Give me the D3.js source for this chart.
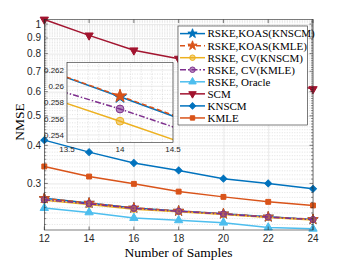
<!DOCTYPE html>
<html>
<head>
<meta charset="utf-8">
<script src="https://cdn.jsdelivr.net/npm/d3@7"></script>
<style>
  body { margin: 0; background: #fff; }
  svg { display: block; }
</style>
</head>
<body>
<div id="chart"></div>
<script>
// values (NMSE vs number of samples)
const samples = [12, 14, 16, 18, 20, 22, 24];
const koasKnscm = [0.2681, 0.2587, 0.2492, 0.2435, 0.2385, 0.2330, 0.2285];
const koasKmle = [0.2680, 0.2588, 0.2494, 0.2437, 0.2386, 0.2331, 0.2287];
const cvKnscm = [0.2644, 0.2557, 0.2467, 0.2420, 0.2372, 0.2320, 0.2277];
const cvKmle = [0.2651, 0.2572, 0.2484, 0.2430, 0.2380, 0.2326, 0.2282];
const oracle = [0.249, 0.241, 0.231, 0.227, 0.223, 0.215, 0.213];
const scm = [1.035, 0.918, 0.82, 0.77, 0.71, 0.66, 0.612];
const knscm = [0.416, 0.380, 0.350, 0.331, 0.311, 0.300, 0.288];
const kmle = [0.341, 0.316, 0.299, 0.282, 0.271, 0.261, 0.254];

const seriesNames = ["RSKE,KOAS(KNSCM)", "RSKE,KOAS(KMLE)", "RSKE, CV(KNSCM)", "RSKE, CV(KMLE)",
  "RSKE, Oracle", "SCM", "KNSCM", "KMLE"];
const xTicks = [12, 14, 16, 18, 20, 22, 24];
const yTicks = [0.3, 0.4, 0.5, 0.6, 0.7, 0.8, 0.9, 1];
const insetXTicks = [13.5, 14, 14.5];
const insetYTicks = [0.254, 0.256, 0.258, 0.26, 0.262];

const series = [
  { name: seriesNames[0], values: koasKnscm, color: "#0072BD", dash: null, marker: "star" },
  { name: seriesNames[1], values: koasKmle, color: "#D95319", dash: "5,3", marker: "star" },
  { name: seriesNames[2], values: cvKnscm, color: "#EDB120", dash: null, marker: "circle" },
  { name: seriesNames[3], values: cvKmle, color: "#7E2F8E", dash: "6,2,1.5,2", marker: "circle" },
  { name: seriesNames[4], values: oracle, color: "#4DBEEE", dash: null, marker: "triangle" },
  { name: seriesNames[5], values: scm, color: "#A2142F", dash: null, marker: "triangleDown" },
  { name: seriesNames[6], values: knscm, color: "#0072BD", dash: null, marker: "diamond" },
  { name: seriesNames[7], values: kmle, color: "#D95319", dash: null, marker: "square" }
];

const width = 346, height = 260;
const axisColor = "#262626";
const sansFont = "'Liberation Sans', Arial, sans-serif";
const serifFont = "'Liberation Serif', 'Times New Roman', serif";

const svg = d3.select("#chart").append("svg")
  .attr("width", width)
  .attr("height", height);

// main axes
const x = d3.scaleLinear().domain([12, 24]).range([44.3, 313]);
const y = d3.scaleLog().domain([0.211, 1.035]).range([230, 19.5]);

function markerPath(kind, size) {
  if (kind === "star") return d3.symbol(d3.symbolStar, size * 1.1)();
  if (kind === "circle") return d3.symbol(d3.symbolCircle, size)();
  if (kind === "triangle" || kind === "triangleDown") return d3.symbol(d3.symbolTriangle, size)();
  return d3.symbol(d3.symbolSquare, size * 0.8)();
}
function markerRotate(kind) {
  if (kind === "triangleDown") return 180;
  if (kind === "diamond") return 45;
  return 0;
}

function drawGrid(g, xs, ys, xMinor, yMinor, x0, x1, y0, y1) {
  g.selectAll(".minor-y").data(yMinor).enter().append("line")
    .attr("x1", x0).attr("x2", x1)
    .attr("y1", d => ys(d)).attr("y2", d => ys(d))
    .attr("stroke", "#cfcfcf").attr("stroke-width", 0.6).attr("stroke-dasharray", "1,1.5");
  g.selectAll(".minor-x").data(xMinor).enter().append("line")
    .attr("y1", y0).attr("y2", y1)
    .attr("x1", d => xs(d)).attr("x2", d => xs(d))
    .attr("stroke", "#cfcfcf").attr("stroke-width", 0.6).attr("stroke-dasharray", "1,1.5");
}

const main = svg.append("g");

// minor grid: 0.01 steps on the log axis
const yMinor = d3.range(0.22, 1.031, 0.01).map(v => +v.toFixed(2)).filter(v => yTicks.indexOf(v) < 0);
drawGrid(main, x, y, [], yMinor, 44.3, 313, 230, 19.5);

// major grid
main.append("g").call(d3.axisBottom(x).tickValues(xTicks).tickSize(-(230 - 19.5)).tickFormat(""))
  .attr("transform", "translate(0,230)")
  .call(g => g.select(".domain").remove())
  .call(g => g.selectAll("line").attr("stroke", "#e0e0e0").attr("stroke-width", 0.7));
main.append("g").call(d3.axisLeft(y).tickValues(yTicks).tickSize(-(313 - 44.3)).tickFormat(""))
  .attr("transform", "translate(44.3,0)")
  .call(g => g.select(".domain").remove())
  .call(g => g.selectAll("line").attr("stroke", "#e0e0e0").attr("stroke-width", 0.7));

// series lines and markers
const line = d3.line().x((d, i) => x(samples[i])).y(d => y(d));
series.forEach(s => {
  main.append("path")
    .datum(s.values)
    .attr("d", line)
    .attr("fill", "none")
    .attr("stroke", s.color)
    .attr("stroke-width", 1.5)
    .attr("stroke-dasharray", s.dash);
  main.selectAll(null).data(s.values).enter().append("path")
    .attr("d", markerPath(s.marker, 30))
    .attr("transform", (d, i) => `translate(${x(samples[i])},${y(d)}) rotate(${markerRotate(s.marker)})`)
    .attr("fill", s.color)
    .attr("fill-opacity", s.marker === "circle" ? 0.55 : 1)
    .attr("stroke", s.color)
    .attr("stroke-width", 1);
});

// main box and ticks
main.append("rect")
  .attr("x", 44.3).attr("y", 19.5).attr("width", 313 - 44.3).attr("height", 230 - 19.5)
  .attr("fill", "none").attr("stroke", axisColor).attr("stroke-width", 0.6);

[44.3, 313].forEach((xx, k) => {
  const dir = k === 0 ? 1 : -1;
  main.selectAll(null).data(yTicks).enter().append("line")
    .attr("x1", xx).attr("x2", xx + dir * 3.5).attr("y1", d => y(d)).attr("y2", d => y(d))
    .attr("stroke", axisColor).attr("stroke-width", 0.6);
  main.selectAll(null).data(yMinor).enter().append("line")
    .attr("x1", xx).attr("x2", xx + dir * 2).attr("y1", d => y(d)).attr("y2", d => y(d))
    .attr("stroke", axisColor).attr("stroke-width", 0.5);
});
[230, 19.5].forEach((yy, k) => {
  const dir = k === 0 ? -1 : 1;
  main.selectAll(null).data(xTicks).enter().append("line")
    .attr("y1", yy).attr("y2", yy + dir * 3.5).attr("x1", d => x(d)).attr("x2", d => x(d))
    .attr("stroke", axisColor).attr("stroke-width", 0.6);
});

main.selectAll(null).data(yTicks).enter().append("text")
  .attr("x", 41).attr("y", d => y(d)).attr("dy", "0.35em")
  .attr("text-anchor", "end")
  .attr("font-family", sansFont).attr("font-size", 10).attr("fill", axisColor)
  .text(d => d3.format("~g")(d));
main.selectAll(null).data(xTicks).enter().append("text")
  .attr("x", d => x(d)).attr("y", 242)
  .attr("text-anchor", "middle")
  .attr("font-family", sansFont).attr("font-size", 10).attr("fill", axisColor)
  .text(d => d);

svg.append("text")
  .attr("x", 178.5).attr("y", 256.5)
  .attr("text-anchor", "middle")
  .attr("font-family", serifFont).attr("font-size", 13.5).attr("fill", "#000")
  .text("Number of Samples");
svg.append("text")
  .attr("transform", "translate(24,122) rotate(-90)")
  .attr("text-anchor", "middle")
  .attr("font-family", serifFont).attr("font-size", 13.5).attr("fill", "#000")
  .text("NMSE");

// inset (zoom around x = 14)
const ix = d3.scaleLinear().domain([13.5, 14.5]).range([67, 173]);
const iy = d3.scaleLinear().domain([0.2531, 0.26295]).range([142.3, 62.3]);
const inset = svg.append("g");
inset.append("rect")
  .attr("x", 67).attr("y", 62.3).attr("width", 106).attr("height", 80)
  .attr("fill", "#fff");
svg.append("clipPath").attr("id", "insetClip")
  .append("rect").attr("x", 67).attr("y", 62.3).attr("width", 106).attr("height", 80);

const insetYMinor = d3.range(0.2535, 0.2629, 0.0005).map(v => +v.toFixed(4))
  .filter(v => insetYTicks.every(t => Math.abs(t - v) > 1e-6));
const insetXMinor = d3.range(13.6, 14.45, 0.1).map(v => +v.toFixed(1)).filter(v => v !== 14);
drawGrid(inset, ix, iy, insetXMinor, insetYMinor, 67, 173, 142.3, 62.3);
inset.selectAll(null).data(insetYTicks).enter().append("line")
  .attr("x1", 67).attr("x2", 173).attr("y1", d => iy(d)).attr("y2", d => iy(d))
  .attr("stroke", "#e0e0e0").attr("stroke-width", 0.7);
inset.selectAll(null).data(insetXTicks).enter().append("line")
  .attr("y1", 62.3).attr("y2", 142.3).attr("x1", d => ix(d)).attr("x2", d => ix(d))
  .attr("stroke", "#e0e0e0").attr("stroke-width", 0.7);

const iline = d3.line().x((d, i) => ix(samples[i])).y(d => iy(d));
const insetPlot = inset.append("g").attr("clip-path", "url(#insetClip)");
series.forEach(s => {
  insetPlot.append("path")
    .datum(s.values)
    .attr("d", iline)
    .attr("fill", "none")
    .attr("stroke", s.color)
    .attr("stroke-width", 1.5)
    .attr("stroke-dasharray", s.dash);
});
series.forEach(s => {
  const pts = s.values.map((v, i) => ({ sx: samples[i], v }))
    .filter(p => p.sx >= 13.5 && p.sx <= 14.5 && p.v >= 0.2531 && p.v <= 0.26295);
  inset.selectAll(null).data(pts).enter().append("path")
    .attr("d", markerPath(s.marker, 48))
    .attr("transform", p => `translate(${ix(p.sx)},${iy(p.v)})`)
    .attr("fill", s.color)
    .attr("fill-opacity", s.marker === "circle" ? 0.55 : 1)
    .attr("stroke", s.color)
    .attr("stroke-width", 1);
});
inset.append("rect")
  .attr("x", 67).attr("y", 62.3).attr("width", 106).attr("height", 80)
  .attr("fill", "none").attr("stroke", axisColor).attr("stroke-width", 0.6);
inset.selectAll(null).data(insetYTicks).enter().append("text")
  .attr("x", 64).attr("y", d => iy(d)).attr("dy", "0.35em")
  .attr("text-anchor", "end")
  .attr("font-family", sansFont).attr("font-size", 8).attr("fill", axisColor)
  .text(d => d3.format("~g")(d));
inset.selectAll(null).data(insetXTicks).enter().append("text")
  .attr("x", d => ix(d)).attr("y", 152)
  .attr("text-anchor", "middle")
  .attr("font-family", sansFont).attr("font-size", 8).attr("fill", axisColor)
  .text(d => d);

// legend
const legend = svg.append("g");
legend.append("rect")
  .attr("x", 178).attr("y", 26).attr("width", 129.5).attr("height", 99)
  .attr("fill", "#fff").attr("stroke", axisColor).attr("stroke-width", 0.6);
series.forEach((s, i) => {
  const ly = 33.6 + i * 12.05;
  legend.append("line")
    .attr("x1", 180).attr("x2", 205).attr("y1", ly).attr("y2", ly)
    .attr("stroke", s.color).attr("stroke-width", 1.5)
    .attr("stroke-dasharray", s.dash);
  legend.append("path")
    .attr("d", markerPath(s.marker, 24))
    .attr("transform", `translate(192.5,${ly}) rotate(${markerRotate(s.marker)})`)
    .attr("fill", s.color)
    .attr("fill-opacity", s.marker === "circle" ? 0.55 : 1)
    .attr("stroke", s.color).attr("stroke-width", 1);
  legend.append("text")
    .attr("x", 207.5).attr("y", ly).attr("dy", "0.35em")
    .attr("font-family", serifFont).attr("font-size", 11).attr("fill", "#000")
    .text(s.name);
});
</script>
</body>
</html>
